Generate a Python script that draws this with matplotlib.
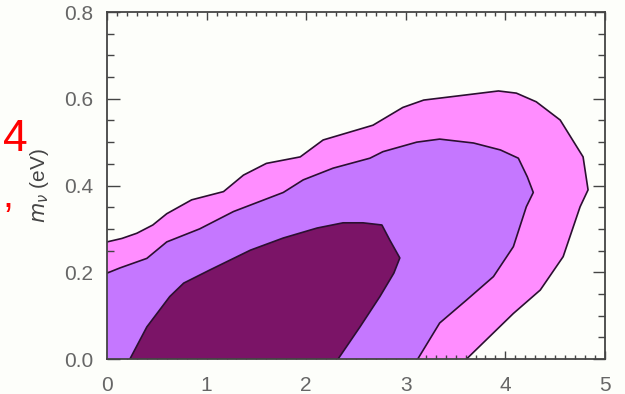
import numpy as np
import matplotlib
matplotlib.use("Agg")
import matplotlib.pyplot as plt
from matplotlib.ticker import MultipleLocator

# contour boundaries (x, m_nu in eV)
outer_x = [0.00, 0.15, 0.30, 0.46, 0.60, 0.85, 1.17, 1.37, 1.60, 1.94, 2.17, 2.67, 2.97,
           3.18, 3.61, 3.93, 4.11, 4.31, 4.55, 4.78, 4.83, 4.75, 4.58, 4.35, 4.08, 3.61]
outer_y = [0.270, 0.278, 0.290, 0.309, 0.335, 0.367, 0.386, 0.424, 0.451, 0.466, 0.505, 0.539, 0.580,
           0.597, 0.609, 0.618, 0.613, 0.593, 0.551, 0.466, 0.390, 0.351, 0.236, 0.159, 0.105, 0.000]

mid_x = [0.00, 0.13, 0.40, 0.60, 0.93, 1.27, 1.77, 1.97, 2.27, 2.64, 2.77, 3.11, 3.34,
         3.68, 3.95, 4.13, 4.22, 4.28, 4.21, 4.08, 3.88, 3.61, 3.34, 3.12]
mid_y = [0.198, 0.210, 0.232, 0.270, 0.300, 0.340, 0.384, 0.413, 0.440, 0.463, 0.478, 0.500, 0.507,
         0.498, 0.482, 0.463, 0.420, 0.384, 0.351, 0.259, 0.190, 0.136, 0.083, 0.000]

inner_x = [0.23, 0.40, 0.63, 0.77, 1.03, 1.44, 1.77, 2.11, 2.37, 2.57, 2.76, 2.84, 2.94,
           2.88, 2.74, 2.54, 2.32]
inner_y = [0.000, 0.074, 0.144, 0.175, 0.205, 0.251, 0.279, 0.302, 0.314, 0.314, 0.309, 0.274, 0.233,
           0.198, 0.144, 0.074, 0.000]

pink = "#FF8DFF"
violet = "#C577FF"
plum = "#7B1467"
edge = "#2B1030"
grey = "#666666"

fig = plt.figure(figsize=(6.25, 3.94), dpi=100, facecolor="#FDFEFA")
ax = fig.add_axes([0.1712, 0.0888, 0.7968, 0.8807])
ax.set_facecolor("#FDFEFA")

# filled regions, closed along the bottom-left corner of the axes
ax.fill([0.0] + outer_x, [0.0] + outer_y, facecolor=pink, edgecolor="none", zorder=1)
ax.plot(outer_x, outer_y, color=edge, lw=1.2, zorder=2)
ax.fill([0.0] + mid_x, [0.0] + mid_y, facecolor=violet, edgecolor="none", zorder=3)
ax.plot(mid_x, mid_y, color=edge, lw=1.2, zorder=4)
ax.fill(inner_x, inner_y, facecolor=plum, edgecolor="none", zorder=5)
ax.plot(inner_x, inner_y, color=edge, lw=1.2, zorder=6)

ax.set_xlim(0, 5)
ax.set_ylim(0, 0.8)
ax.xaxis.set_major_locator(MultipleLocator(1))
ax.xaxis.set_minor_locator(MultipleLocator(0.1))
ax.yaxis.set_major_locator(MultipleLocator(0.2))
ax.yaxis.set_minor_locator(MultipleLocator(0.05))
ax.yaxis.set_major_formatter(matplotlib.ticker.FormatStrFormatter("%.1f"))

ax.tick_params(which="both", direction="in", top=True, right=True, color="#444444", width=1.0)
ax.tick_params(axis="y", which="major", length=9, pad=10)
ax.tick_params(axis="y", which="minor", length=5)
ax.tick_params(axis="x", which="major", length=6, pad=12)
ax.tick_params(axis="x", which="minor", length=3)
for lab in ax.get_xticklabels() + ax.get_yticklabels():
    lab.set_fontfamily("Liberation Sans")
    lab.set_fontsize(15)
    lab.set_color(grey)
for s in ax.spines.values():
    s.set_color("#444444")
    s.set_linewidth(1.3)
    s.set_zorder(10)

ax.set_ylabel(r"$m_\nu$ (eV)", fontsize=15, color="#444444", labelpad=9,
              fontfamily="Liberation Sans")

# red annotation fragments at the left edge
fig.text(15 / 625, 1 - 140 / 394, "4", color="red", fontsize=32, ha="center", va="center",
         fontfamily="Liberation Sans")
fig.text(2 / 625, 1 - 197 / 394, ",", color="red", fontsize=28, ha="left", va="center",
         fontfamily="Liberation Sans")

fig.savefig("out.png", dpi=100, facecolor=fig.get_facecolor())
